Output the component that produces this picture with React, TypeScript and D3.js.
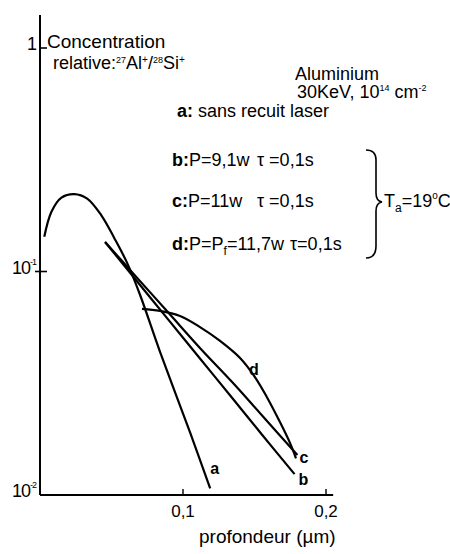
import React from "react";
import * as d3 from "d3";

// profondeur (µm) / concentration relative
const depthA = [0.003, 0.008, 0.015, 0.024, 0.033, 0.043, 0.052, 0.061, 0.070, 0.084, 0.105, 0.119];
const concA = [0.143, 0.185, 0.214, 0.222, 0.212, 0.178, 0.141, 0.109, 0.0785, 0.0436, 0.019, 0.0107];

const depthB = [0.0455, 0.065, 0.09, 0.112, 0.135, 0.155, 0.178];
const concB = [0.1355, 0.0952, 0.0606, 0.0407, 0.0269, 0.0187, 0.0124];

const depthC = [0.0455, 0.065, 0.09, 0.112, 0.135, 0.155, 0.18];
const concC = [0.1355, 0.0983, 0.0652, 0.0454, 0.0317, 0.0228, 0.0151];

const depthD = [0.0713, 0.0839, 0.0979, 0.1119, 0.1259, 0.1399, 0.1503, 0.1587, 0.1678, 0.1748, 0.179];
const concD = [0.068, 0.0666, 0.0632, 0.0564, 0.0489, 0.041, 0.0337, 0.0274, 0.0212, 0.0171, 0.0146];

const xTicks = [0.1, 0.2];
const xTickLabels = ["0,1", "0,2"];
const yTicks = [1, 0.1, 0.01];
const yTickBase = ["1", "10", "10"];
const yTickExp = ["", "-1", "-2"];

const FONT = "'Liberation Sans', Arial, Helvetica, sans-serif";

type Courbe = { nom: string, x: number[], y: number[], idx: number, dx: number, dy: number };

const courbes: Courbe[] = [
    {nom: "a", x: depthA, y: concA, idx: depthA.length - 1, dx: -4, dy: -14},
    {nom: "b", x: depthB, y: concB, idx: depthB.length - 1, dx: 0, dy: 11},
    {nom: "c", x: depthC, y: concC, idx: depthC.length - 1, dx: -2, dy: 8},
    {nom: "d", x: depthD, y: concD, idx: 6, dx: -10, dy: -2},
];

export default function App() {
    const largura = 450, altura = 554;
    const x = d3.scaleLinear().domain([0, 0.2]).range([40, 326]);
    const y = d3.scaleLog().domain([0.01, 1]).range([495, 48]);

    const line = d3.line<[number, number]>()
        .x(d => x(d[0]))
        .y(d => y(d[1]))
        .curve(d3.curveCatmullRom.alpha(0.5));

    const x0 = x(0), yBas = y(0.01);

    return (
        <svg width={largura} height={altura}
             style={{position: "absolute", left: 0, top: 0, background: "white"}}
             fontFamily={FONT}>
            {/* axes */}
            <line x1={x0} x2={x0} y1={15} y2={yBas} stroke="black" strokeWidth={2}/>
            <line x1={x0} x2={x(0.205)} y1={yBas} y2={yBas} stroke="black" strokeWidth={2}/>

            {yTicks.map((t, i) => (
                <g key={"yt" + i}>
                    <line x1={x0 - (i === 1 ? 5 : 0)} x2={x0 + 7} y1={y(t)} y2={y(t)} stroke="black" strokeWidth={1.6}/>
                    <text x={x0 - 4} y={y(t) + 2} fontSize={18} textAnchor="end" letterSpacing={-1}>
                        {yTickBase[i]}
                        {yTickExp[i] && <tspan dy={-9} fontSize={9}>{yTickExp[i]}</tspan>}
                    </text>
                </g>
            ))}

            {xTicks.map((t, i) => (
                <g key={"xt" + i}>
                    <line x1={x(t)} x2={x(t)} y1={yBas} y2={yBas - 6} stroke="black" strokeWidth={1.4}/>
                    <text x={x(t)} y={yBas + 22} fontSize={17} textAnchor="middle">{xTickLabels[i]}</text>
                </g>
            ))}

            <text x={199} y={543} fontSize={19}>profondeur (µm)</text>

            <text x={47} y={48} fontSize={19}>Concentration</text>
            <text x={53} y={69} fontSize={18}>
                relative:<tspan dy={-6} fontSize={9}>27</tspan><tspan dy={6}>Al</tspan>
                <tspan dy={-6} fontSize={10}>+</tspan><tspan dy={6}>/</tspan>
                <tspan dy={-6} fontSize={9}>28</tspan><tspan dy={6}>Si</tspan>
                <tspan dy={-6} fontSize={10}>+</tspan>
            </text>

            {/* courbes */}
            {courbes.map(c => (
                <path key={c.nom}
                      d={line(c.x.map((v, i) => [v, c.y[i]] as [number, number])) ?? ""}
                      fill="none" stroke="black" strokeWidth={2.2}/>
            ))}
            {courbes.map(c => (
                <text key={"l" + c.nom}
                      x={x(c.x[c.idx]) + c.dx + 4} y={y(c.y[c.idx]) + c.dy}
                      fontSize={16} fontWeight="bold">{c.nom}</text>
            ))}

            {/* legende */}
            <text x={337} y={80} fontSize={18} textAnchor="middle">Aluminium</text>
            <text x={297} y={98} fontSize={18}>
                30KeV, 10<tspan dy={-7} fontSize={9}>14</tspan><tspan dy={7}> cm</tspan>
                <tspan dy={-7} fontSize={9}>-2</tspan>
            </text>
            <text x={177} y={117} fontSize={18}>
                <tspan fontWeight="bold">a:</tspan> sans recuit laser
            </text>
            <text x={172} y={166} fontSize={18}><tspan fontWeight="bold">b:</tspan>P=9,1w</text>
            <text x={257} y={166} fontSize={18}>τ =0,1s</text>
            <text x={172} y={207} fontSize={18}><tspan fontWeight="bold">c:</tspan>P=11w</text>
            <text x={257} y={207} fontSize={18}>τ =0,1s</text>
            <text x={172} y={250} fontSize={18}>
                <tspan fontWeight="bold">d:</tspan>P=P<tspan dy={5} fontSize={12}>f</tspan><tspan dy={-5}>=11,7w</tspan>
            </text>
            <text x={290} y={250} fontSize={18}>τ=0,1s</text>

            <path d="M366,150 Q376,150 376,160 L376,193 Q376,201 382,202 Q376,203 376,211 L376,246 Q376,258 366,258"
                  fill="none" stroke="black" strokeWidth={1.6}/>
            <text x={384} y={207} fontSize={18}>
                T<tspan dy={5} fontSize={12}>a</tspan><tspan dy={-5}>=19</tspan>
                <tspan dy={-8} fontSize={10}>o</tspan><tspan dy={8}>C</tspan>
            </text>
        </svg>
    );
}
